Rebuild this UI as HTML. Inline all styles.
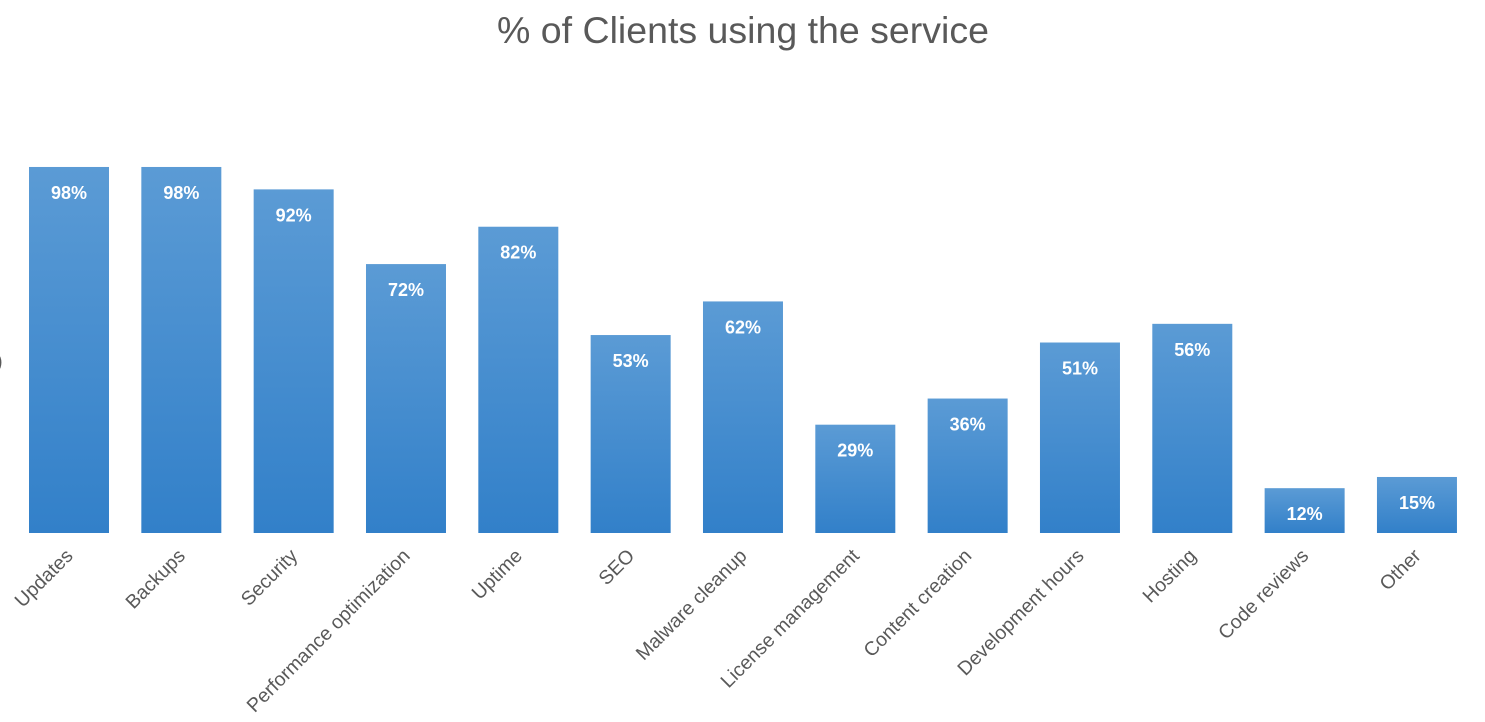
<!DOCTYPE html>
<html><head><meta charset="utf-8"><style>
html,body{margin:0;padding:0;background:#fff;width:1485px;height:722px;overflow:hidden}
svg{display:block;font-family:"Liberation Sans",sans-serif}
</style></head><body>
<svg width="1485" height="722" viewBox="0 0 1485 722">
<defs><linearGradient id="g" x1="0" y1="0" x2="0" y2="1">
<stop offset="0" stop-color="#5b9bd5"/><stop offset="1" stop-color="#3280c9"/></linearGradient></defs>
<text x="743" y="43" text-anchor="middle" font-size="37.5" fill="#595959">% of Clients using the service</text>
<text x="-4" y="368" font-size="20" fill="#595959">)</text>
<g id="bars"></g>
</svg>
<script>
var d=[["Updates",98],["Backups",98],["Security",92],["Performance optimization",72],["Uptime",82],["SEO",53],["Malware cleanup",62],["License management",29],["Content creation",36],["Development hours",51],["Hosting",56],["Code reviews",12],["Other",15]];
var g=document.getElementById("bars"),s="";
d.forEach(function(v,i){var x=29+i*112.33,h=v[1]*3.735,y=533-h,c=x+40;
s+='<rect x="'+x+'" y="'+y+'" width="80" height="'+h+'" fill="url(#g)"/>';
s+='<text x="'+c+'" y="'+(y+32)+'" text-anchor="middle" font-size="18" font-weight="bold" fill="#fff">'+v[1]+'%</text>';
s+='<text transform="translate('+(c+5)+',557) rotate(-45)" text-anchor="end" font-size="19.5" fill="#595959">'+v[0]+'</text>';});
g.innerHTML=s;
</script>
</body></html>
